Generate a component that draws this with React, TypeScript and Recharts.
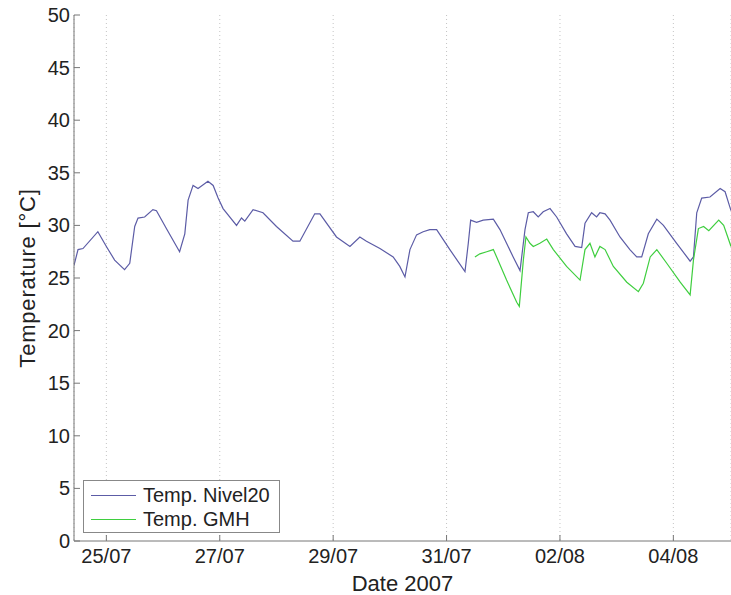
import { LineChart, Line, XAxis, YAxis, CartesianGrid, Legend } from "recharts";

// hours counted from 24/07/2007 00:00
const nivelHours = [
    10.3, 12.0, 14.1, 20.4, 24.0, 27.5, 31.7, 33.9, 36.0, 37.4, 40.2, 43.7, 45.2, 49.4, 55.0, 57.2,
    58.6, 60.7, 62.8, 67.0, 69.2, 71.3, 73.4, 79.1, 81.2, 82.6, 86.1, 90.3, 96.0, 103.0, 105.9, 112.2,
    114.4, 121.4, 127.1, 131.3, 134.1, 139.8, 145.4, 148.2, 150.4, 152.5, 155.3, 158.1, 160.9, 163.8,
    169.4, 175.8, 177.2, 178.2, 180.7, 183.5, 187.8, 190.6, 196.2, 199.1, 201.2, 202.6, 204.7, 206.8,
    208.9, 211.8, 214.6, 218.8, 222.4, 225.2, 226.6, 229.4, 231.5, 232.9, 235.1, 237.2, 241.4, 245.6,
    248.5, 250.6, 253.4, 257.0, 259.8, 265.4, 271.1, 272.5, 273.9, 276.0, 279.5, 283.8, 285.9, 288.4,
];
const nivelTemps = [
    26.2, 27.7, 27.8, 29.4, 28.0, 26.7, 25.8, 26.4, 29.9, 30.7, 30.8, 31.5, 31.4, 29.7, 27.5, 29.2,
    32.4, 33.8, 33.5, 34.2, 33.8, 32.6, 31.6, 30.0, 30.7, 30.4, 31.5, 31.2, 29.9, 28.5, 28.5, 31.1,
    31.1, 28.9, 28.0, 28.9, 28.5, 27.8, 27.0, 26.1, 25.1, 27.7, 29.1, 29.4, 29.6, 29.6,
    27.7, 25.6, 28.3, 30.5, 30.3, 30.5, 30.6, 29.6, 27.0, 25.7, 29.6, 31.2, 31.3, 30.8,
    31.3, 31.6, 30.8, 29.2, 28.0, 27.9, 30.2, 31.2, 30.8, 31.2, 31.1, 30.5, 28.9, 27.7,
    27.0, 27.0, 29.2, 30.6, 30.0, 28.3, 26.6, 27.0, 31.2, 32.6, 32.7, 33.5, 33.2, 31.4,
];

const gmhHours = [
    180.0, 182.1, 185.0, 187.8, 189.2, 193.4, 197.7, 198.8, 200.5, 201.6, 203.3, 204.7, 207.5, 210.4,
    213.2, 218.8, 224.5, 226.6, 228.7, 230.8, 232.9, 235.1, 238.6, 244.3, 249.2, 251.3, 254.2, 257.0,
    261.2, 266.9, 271.1, 272.5, 274.6, 276.8, 279.0, 283.2, 285.3, 288.4,
];
const gmhTemps = [
    27.0, 27.3, 27.5, 27.7, 27.0, 24.8, 22.7, 22.3, 26.7, 28.9, 28.3, 28.0, 28.3, 28.7,
    27.7, 26.1, 24.8, 27.7, 28.3, 27.0, 28.0, 27.7, 26.1, 24.6, 23.7, 24.5, 27.0, 27.7,
    26.4, 24.6, 23.4, 26.7, 29.7, 29.9, 29.5, 30.5, 30.0, 28.0,
];

const dateTicks = [24, 72, 120, 168, 216, 264];
const dateLabels = ["25/07", "27/07", "29/07", "31/07", "02/08", "04/08"];
const tempTicks = [0, 5, 10, 15, 20, 25, 30, 35, 40, 45, 50];

const seriesNames = ["Temp. Nivel20", "Temp. GMH"];
const seriesColors = ["#5c5ca6", "#3fce3f"];

const nivelData = nivelHours.map((h, i) => ({ hour: h, temp: nivelTemps[i] }));
const gmhData = gmhHours.map((h, i) => ({ hour: h, temp: gmhTemps[i] }));

const FONT = "'Liberation Sans', Arial, Helvetica, sans-serif";
const AXIS = "#777777";
const TEXT = "#222222";

const BottomTick = (props: any) => {
    const { x, y, payload } = props;
    const idx = dateTicks.indexOf(payload.value);
    return (
        <g>
            <line x1={x} y1={y} x2={x} y2={y - 6} stroke={AXIS} />
            <text x={x} y={y + 22} textAnchor="middle" fontSize={20} fill={TEXT} fontFamily={FONT}>
                {idx >= 0 ? dateLabels[idx] : ""}
            </text>
        </g>
    );
};

const TopTick = (props: any) => {
    const { x, y } = props;
    return <line x1={x} y1={y} x2={x} y2={y + 6} stroke={AXIS} />;
};

const LeftTick = (props: any) => {
    const { x, y, payload } = props;
    return (
        <g>
            <line x1={x} y1={y} x2={x + 6} y2={y} stroke={AXIS} />
            <text x={x - 4} y={y + 7} textAnchor="end" fontSize={20} fill={TEXT} fontFamily={FONT}>
                {payload.value}
            </text>
        </g>
    );
};

const LegendBox = () => (
    <div
        style={{
            width: 197,
            height: 53,
            boxSizing: "border-box",
            border: "1px solid #888",
            background: "#fff",
            paddingTop: 2,
            fontFamily: FONT,
            fontSize: 20,
            color: TEXT,
        }}
    >
        {seriesNames.map((name, i) => (
            <div key={name} style={{ display: "flex", alignItems: "center", height: 24 }}>
                <div style={{ width: 45, height: 0, borderTop: `1.5px solid ${seriesColors[i]}`, marginLeft: 7, marginRight: 7 }} />
                <span>{name}</span>
            </div>
        ))}
    </div>
);

export default function App() {
    return (
        <div style={{ position: "absolute", left: 0, top: 0, width: 731, height: 595, overflow: "hidden", background: "#fff" }}>
            <LineChart width={731} height={595} margin={{ top: 15, right: 0, bottom: 0, left: 0 }}>
                <CartesianGrid horizontal={false} stroke="#c4c4c4" strokeDasharray="1 3" />
                <XAxis
                    type="number"
                    dataKey="hour"
                    domain={[10.3, 288.4]}
                    allowDataOverflow
                    ticks={dateTicks}
                    tick={<BottomTick />}
                    tickSize={0}
                    tickMargin={0}
                    tickLine={false}
                    height={54}
                    stroke={AXIS}
                    label={{ value: "Date 2007", position: "insideBottom", offset: 4, fontSize: 22, fill: TEXT, fontFamily: FONT }}
                />
                <XAxis
                    xAxisId="top"
                    orientation="top"
                    type="number"
                    dataKey="hour"
                    domain={[10.3, 288.4]}
                    allowDataOverflow
                    ticks={dateTicks}
                    tick={<TopTick />}
                    tickSize={0}
                    tickMargin={0}
                    tickLine={false}
                    height={0}
                    stroke={AXIS}
                />
                <YAxis
                    type="number"
                    domain={[0, 50]}
                    ticks={tempTicks}
                    tick={<LeftTick />}
                    tickSize={0}
                    tickMargin={0}
                    tickLine={false}
                    width={74}
                    stroke={AXIS}
                    label={{
                        value: "Temperature [°C]",
                        angle: -90,
                        position: "insideLeft",
                        dx: 22,
                        dy: 0,
                        fontSize: 22,
                        fill: TEXT,
                        fontFamily: FONT,
                        style: { textAnchor: "middle", letterSpacing: 0.8 },
                    }}
                />
                <Legend
                    layout="horizontal"
                    verticalAlign="middle"
                    align="center"
                    content={<LegendBox />}
                    wrapperStyle={{ position: "absolute", left: 83, top: 480, width: 197, height: 53 }}
                />
                <Line
                    data={nivelData}
                    dataKey="temp"
                    name={seriesNames[0]}
                    type="linear"
                    stroke={seriesColors[0]}
                    strokeWidth={1.2}
                    dot={false}
                    isAnimationActive={false}
                />
                <Line
                    data={gmhData}
                    dataKey="temp"
                    name={seriesNames[1]}
                    type="linear"
                    stroke={seriesColors[1]}
                    strokeWidth={1.2}
                    dot={false}
                    isAnimationActive={false}
                />
            </LineChart>
        </div>
    );
}
